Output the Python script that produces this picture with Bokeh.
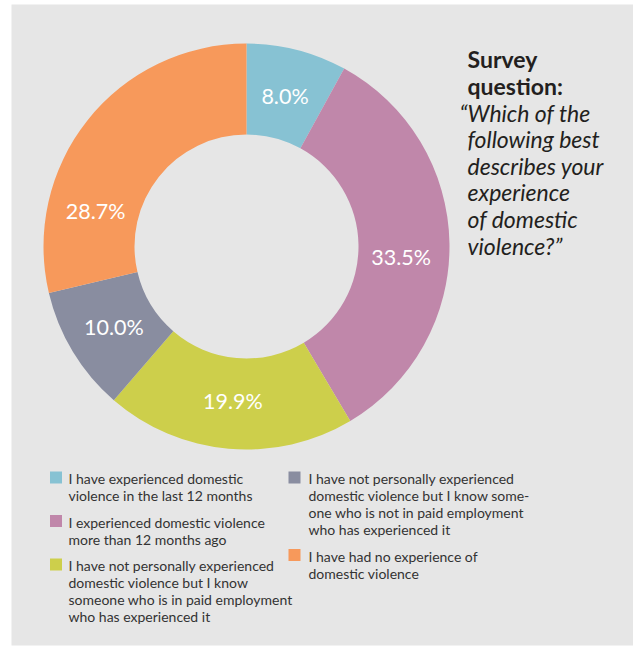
import math
from bokeh.plotting import figure
from bokeh.models import Range1d, ColumnDataSource
from bokeh.core.properties import value
from bokeh.embed import file_html
from bokeh.resources import INLINE

# ---------------- data ----------------
categories = [
    "Experienced DV in last 12 months",
    "Experienced DV more than 12 months ago",
    "Know someone in paid employment",
    "Know someone not in paid employment",
    "No experience",
]
shares = [8.0, 33.5, 19.9, 10.0, 28.7]
pct_labels = ["8.0%", "33.5%", "19.9%", "10.0%", "28.7%"]
colors = ["#87C2D3", "#C087AA", "#CDCF4B", "#898DA0", "#F7995B"]
legend_labels = [
    "I have experienced domestic\nviolence in the last 12 months",
    "I experienced domestic violence\nmore than 12 months ago",
    "I have not personally experienced\ndomestic violence but I know\nsomeone who is in paid employment\nwho has experienced it",
    "I have not personally experienced\ndomestic violence but I know some-\none who is not in paid employment\nwho has experienced it",
    "I have had no experience of\ndomestic violence",
]
legend_column = [0, 0, 0, 1, 1]
question_title = ["Survey", "question:"]
question_text = ["\u201cWhich of the", "following best", "describes your",
                 "experience", "of domestic", "violence?\u201d"]

# ---------------- layout helpers ----------------
W, H = 633, 647
FONT = "Lato"


def px(x):
    return x


def py(y):
    return H - y


p = figure(width=W, height=H, x_range=Range1d(0, W), y_range=Range1d(0, H),
           output_backend="svg", toolbar_location=None, min_border=0,
           x_axis_location=None, y_axis_location=None)
p.grid.visible = False
p.outline_line_color = None
p.background_fill_color = "white"
p.border_fill_color = "white"

# grey panel
p.quad(left=[px(11)], right=[px(633)], bottom=[py(645)], top=[py(4)],
       fill_color="#E6E6E6", line_color=None)

# ---------------- donut ----------------
cx, cy = px(246), py(246)
R_OUT, R_IN, R_LAB = 203, 112, 155
total = sum(shares)
starts, ends, mids = [], [], []
cum = 0.0
for s in shares:
    a0 = cum / total * 2 * math.pi
    cum += s
    a1 = cum / total * 2 * math.pi
    starts.append(math.pi / 2 - a0)
    ends.append(math.pi / 2 - a1)
    mids.append((a0 + a1) / 2)

src = ColumnDataSource(dict(start=starts, end=ends, color=colors, cat=categories))
p.annular_wedge(x=cx, y=cy, inner_radius=R_IN, outer_radius=R_OUT,
                start_angle="start", end_angle="end", direction="clock",
                fill_color="color", line_color=None, source=src)

label_nudge_deg = [0, 5, 0, 0, -25]
lx, ly = [], []
for m, n in zip(mids, label_nudge_deg):
    a = m + math.radians(n)
    lx.append(cx + R_LAB * math.sin(a))
    ly.append(cy + R_LAB * math.cos(a))
p.text(x=lx, y=ly, text=pct_labels, text_color="white",
       text_font=value(FONT), text_font_size="21.5px",
       text_align="center", text_baseline="middle")

# ---------------- survey question ----------------
qx = px(467)
title_y = [58, 85]
p.text(x=[qx] * len(question_title), y=[py(v) for v in title_y], text=question_title,
       text_color="#231F20", text_font=value(FONT), text_font_size="23px",
       text_font_style="bold", text_align="left", text_baseline="middle")
q_y = [112 + 26.6 * i for i in range(len(question_text))]
q_x = [qx - 8] + [qx] * (len(question_text) - 1)
p.text(x=q_x, y=[py(v) for v in q_y], text=question_text,
       text_color="#231F20", text_font=value(FONT), text_font_size="23px",
       text_font_style="italic", text_align="left", text_baseline="middle")

# ---------------- legend ----------------
col_sq_x = [55.5, 294]
col_tx_x = [68, 308]
col_y = [478, 478]
sq_x, sq_y, sq_c = [], [], []
tx, ty, tt = [], [], []
for lab, col, c in zip(legend_labels, legend_column, colors):
    y = col_y[col]
    sq_x.append(px(col_sq_x[col]))
    sq_y.append(py(y - 1))
    sq_c.append(c)
    for line in lab.split("\n"):
        tx.append(px(col_tx_x[col]))
        ty.append(py(y))
        tt.append(line)
        y += 17
    col_y[col] = y + 9.5

p.rect(x=sq_x, y=sq_y, width=12, height=12, fill_color=sq_c, line_color=None)
p.text(x=tx, y=ty, text=tt, text_color="#333333", text_font=value(FONT),
       text_font_size="14px", text_align="left", text_baseline="middle")

open("out.html", "w").write(file_html(p, INLINE))
